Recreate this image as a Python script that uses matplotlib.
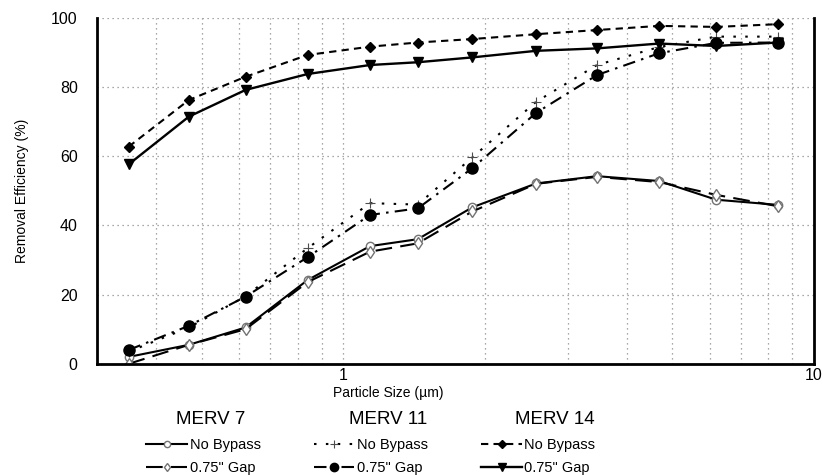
import numpy as np
import matplotlib
matplotlib.use('Agg')
from matplotlib import pyplot as plt

plt.rcParams['font.family'] = ['Liberation Sans', 'DejaVu Sans']

# particle size channels (um)
size = [0.35, 0.47, 0.62, 0.84, 1.14, 1.44, 1.88, 2.57, 3.46, 4.69, 6.2, 8.4]

merv7_nobypass = [2, 5.5, 10.5, 24.2, 34, 36, 45.2, 52.1, 54.2, 52.8, 47.4, 45.9]
merv7_gap = [0, 5.5, 10, 23.6, 32.4, 34.8, 44, 52, 54, 52.5, 48.8, 45.5]
merv11_nobypass = [3.5, 10.5, 19.5, 33.4, 46.4, 46, 59.6, 75.7, 86.3, 91.5, 94.5, 94.5]
merv11_gap = [4, 11, 19.4, 30.8, 43, 44.9, 56.5, 72.5, 83.4, 89.7, 92.7, 92.8]
merv14_nobypass = [62.7, 76.2, 82.9, 89.2, 91.6, 92.8, 93.8, 95.2, 96.4, 97.6, 97.3, 98.1]
merv14_gap = [57.6, 71.4, 79.1, 83.7, 86.3, 87.1, 88.5, 90.4, 91.1, 92.5, 91.8, 92.8]

fig = plt.figure(figsize=(8.23, 4.75), dpi=100)
ax = fig.add_axes([0.118, 0.234, 0.871, 0.729])

k = 'black'
l7a, = ax.plot(size, merv7_nobypass, '-', color=k, lw=1.5, marker='o', ms=6,
               mfc='white', mec='0.45', mew=1.0)
l7b, = ax.plot(size, merv7_gap, color=k, lw=1.5, dashes=(8, 4), marker='d', ms=6,
               mfc='white', mec='0.45', mew=1.0)
l11a, = ax.plot(size, merv11_nobypass, color=k, lw=1.5, dashes=(1.2, 4.5), marker='+', ms=7,
                mec='0.3', mew=0.8)
l11b, = ax.plot(size, merv11_gap, color=k, lw=1.5, dashes=(6, 3, 1.2, 3), marker='o', ms=8,
                mfc=k, mec=k)
l14a, = ax.plot(size, merv14_nobypass, color=k, lw=1.5, dashes=(3.5, 2.5), marker='D', ms=5,
                mfc=k, mec=k)
l14b, = ax.plot(size, merv14_gap, '-', color=k, lw=1.7, marker='v', ms=7,
                mfc=k, mec=k)

ax.set_xscale('log')
ax.set_xlim(0.3, 10)
ax.set_ylim(0, 100)
ax.set_yticks(np.arange(0, 101, 20))
ax.set_xticks([1, 10])
ax.set_xticklabels(['1', '10'])
ax.xaxis.set_minor_formatter(matplotlib.ticker.NullFormatter())
ax.tick_params(which='both', length=0, labelsize=11.5)
ax.tick_params(axis='y', pad=14)
ax.tick_params(axis='x', pad=3)

ax.grid(True, which='major', axis='both', color='0.55', ls=(0, (1, 3)), lw=0.9)
ax.grid(True, which='minor', axis='x', color='0.55', ls=(0, (1, 3)), lw=0.9)
ax.set_axisbelow(True)

for s in ['left', 'bottom', 'right']:
    ax.spines[s].set_linewidth(2)
ax.spines['top'].set_visible(False)

ax.set_ylabel('Removal Efficiency (%)', fontsize=10, labelpad=16)
ax.set_xlabel('Particle Size (\u00b5m)', fontsize=10)
ax.xaxis.set_label_coords(0.406, -0.065)

groups = [
    ('MERV 7', [l7a, l7b], 0.178, 0.256),
    ('MERV 11', [l11a, l11b], 0.381, 0.471),
    ('MERV 14', [l14a, l14b], 0.585, 0.674),
]
for title, handles, x0, xt in groups:
    fig.text(xt, 0.116, title, fontsize=13.5, ha='center', va='center')
    fig.legend(handles, ['No Bypass', '0.75" Gap'], loc='upper left',
               bbox_to_anchor=(x0, 0.078), frameon=False, fontsize=10.5,
               handlelength=2.75, handletextpad=0.2, labelspacing=0.62,
               borderpad=0, borderaxespad=0, markerscale=0.75)

fig.savefig('out.png', dpi=100)
